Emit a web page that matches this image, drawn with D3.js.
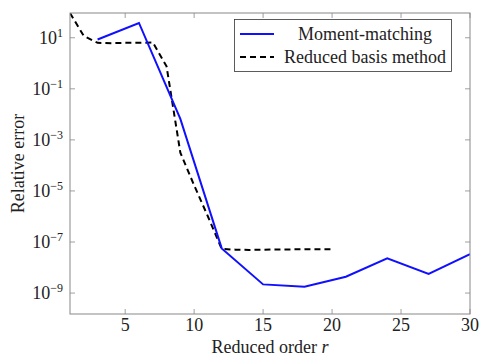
<!DOCTYPE html>
<html>
<head>
<meta charset="utf-8">
<script src="https://cdn.jsdelivr.net/npm/d3@7"></script>
<style>
  body { margin: 0; background: #fff; }
  text { font-family: "Liberation Serif", "Times New Roman", serif; fill: #222; }
</style>
</head>
<body>
<div id="chart"></div>
<script>
// moment-matching, every third order
var mmOrders = [3, 6, 9, 12, 15, 18, 21, 24, 27, 30];
var mmExp = [0.93, 1.58, -2.18, -7.25, -8.66, -8.75, -8.36, -7.64, -8.25, -7.48];

// reduced basis
var rbOrders = [1, 2, 3, 4, 5, 6, 7, 8, 9, 10, 11, 12, 13, 14, 15, 16, 17, 18, 19, 20];
var rbExp = [1.97, 1.07, 0.8, 0.79, 0.8, 0.8, 0.82, -0.12, -3.5, -4.78, -6.0, -7.27,
  -7.3, -7.31, -7.3, -7.29, -7.29, -7.28, -7.28, -7.28];

var xTicks = [5, 10, 15, 20, 25, 30];
var yTickExp = [1, -1, -3, -5, -7, -9];
var legendLabels = ["Moment-matching", "Reduced basis method"];

var width = 485, height = 356;
var margin = {top: 13, right: 15, bottom: 42, left: 70};

var svg = d3.select("#chart").append("svg")
  .attr("width", width)
  .attr("height", height);

var x = d3.scaleLinear().domain([1, 30]).range([margin.left, width - margin.right]);
var y = d3.scaleLog().domain([Math.pow(10, -9.82), Math.pow(10, 1.97)])
  .range([height - margin.bottom, margin.top]);

var x0 = margin.left, x1 = width - margin.right;
var y0 = height - margin.bottom, y1 = margin.top;

// ticks, pointing inward on all four sides
var tickLen = 5;
var frame = svg.append("g").attr("stroke", "#888").attr("stroke-width", 0.8);
xTicks.forEach(function (t) {
  frame.append("line").attr("x1", x(t)).attr("x2", x(t)).attr("y1", y0).attr("y2", y0 - tickLen);
  frame.append("line").attr("x1", x(t)).attr("x2", x(t)).attr("y1", y1).attr("y2", y1 + tickLen);
});
yTickExp.forEach(function (e) {
  var v = y(Math.pow(10, e));
  frame.append("line").attr("x1", x0).attr("x2", x0 + tickLen).attr("y1", v).attr("y2", v);
  frame.append("line").attr("x1", x1).attr("x2", x1 - tickLen).attr("y1", v).attr("y2", v);
});

// tick labels
svg.append("g").selectAll("text").data(xTicks).join("text")
  .attr("x", function (d) { return x(d); })
  .attr("y", y0 + 17)
  .attr("text-anchor", "middle")
  .attr("font-size", 18)
  .text(function (d) { return d; });

var yl = svg.append("g").selectAll("text").data(yTickExp).join("text")
  .attr("x", x0 - 7)
  .attr("y", function (d) { return y(Math.pow(10, d)) + 6; })
  .attr("text-anchor", "end")
  .attr("font-size", 18);
yl.append("tspan").text("10");
yl.append("tspan").attr("dy", -7).attr("font-size", 12)
  .text(function (d) { return d < 0 ? "\u2212" + (-d) : d; });

// lines
var line = d3.line()
  .x(function (d) { return x(d[0]); })
  .y(function (d) { return y(Math.pow(10, d[1])); });

svg.append("clipPath").attr("id", "clip").append("rect")
  .attr("x", x0).attr("y", y1).attr("width", x1 - x0).attr("height", y0 - y1);

svg.append("path")
  .datum(rbOrders.map(function (r, i) { return [r, rbExp[i]]; }))
  .attr("clip-path", "url(#clip)")
  .attr("d", line)
  .attr("fill", "none")
  .attr("stroke", "#000")
  .attr("stroke-width", 2)
  .attr("stroke-dasharray", "6,4");

svg.append("path")
  .datum(mmOrders.map(function (r, i) { return [r, mmExp[i]]; }))
  .attr("clip-path", "url(#clip)")
  .attr("d", line)
  .attr("fill", "none")
  .attr("stroke", "#1010ff")
  .attr("stroke-width", 2);

// axis box
svg.append("rect")
  .attr("x", x0).attr("y", y1).attr("width", x1 - x0).attr("height", y0 - y1)
  .attr("fill", "none").attr("stroke", "#888").attr("stroke-width", 1);

// axis labels
svg.append("text")
  .attr("x", (x0 + x1) / 2)
  .attr("y", height - 3)
  .attr("text-anchor", "middle")
  .attr("font-size", 18)
  .html('Reduced order <tspan font-style="italic">r</tspan>');

svg.append("text")
  .attr("transform", "translate(24," + ((y0 + y1) / 2) + ") rotate(-90)")
  .attr("text-anchor", "middle")
  .attr("font-size", 18)
  .text("Relative error");

// legend
var lg = svg.append("g");
lg.append("rect")
  .attr("x", 234.5).attr("y", 19.5).attr("width", 217).attr("height", 52)
  .attr("fill", "#fff").attr("stroke", "#333").attr("stroke-width", 0.8);
var lgStyles = [{c: "#1010ff", dash: null}, {c: "#000", dash: "6,4"}];
legendLabels.forEach(function (lab, i) {
  var cy = 34 + i * 23;
  lg.append("line")
    .attr("x1", 240).attr("x2", 274).attr("y1", cy).attr("y2", cy)
    .attr("stroke", lgStyles[i].c).attr("stroke-width", 2)
    .attr("stroke-dasharray", lgStyles[i].dash);
  lg.append("text")
    .attr("x", 365).attr("y", cy + 6)
    .attr("text-anchor", "middle")
    .attr("font-size", 18)
    .text(lab);
});
</script>
</body>
</html>
